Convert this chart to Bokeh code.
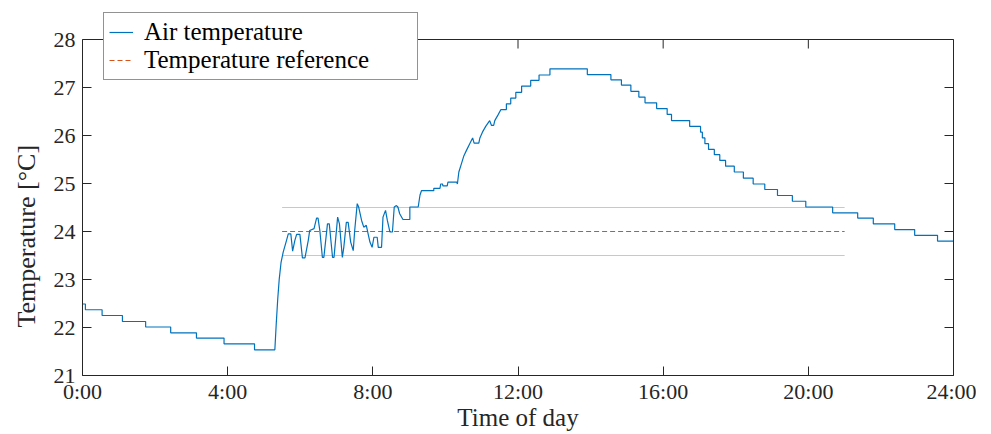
from bokeh.plotting import figure
from bokeh.models import Range1d, FixedTicker, LinearAxis, Legend, LegendItem, Span, Title
from bokeh.embed import file_html
from bokeh.resources import INLINE

# ---------------- data ----------------
# night: stepwise cooling, change points (hour, temperature)
night_h = [0.0, 0.08, 0.54, 1.10, 1.74, 2.43, 3.14, 3.90, 4.74]
night_t = [22.49, 22.37, 22.25, 22.125, 22.01, 21.89, 21.78, 21.66, 21.535]

# morning: heating and oscillation around the reference (polyline vertices)
rise_h = [5.30, 5.34, 5.38, 5.42, 5.47, 5.53, 5.62, 5.67, 5.74, 5.79, 5.85, 5.90, 5.99,
          6.06, 6.13, 6.22, 6.26, 6.38, 6.45, 6.49, 6.54, 6.61, 6.65, 6.75, 6.80, 6.89,
          6.93, 7.03, 7.08, 7.16, 7.20, 7.27, 7.32, 7.39, 7.46, 7.50, 7.57, 7.61, 7.69,
          7.75, 7.82, 7.87, 7.92, 7.98, 8.03, 8.12, 8.15, 8.24, 8.28, 8.35, 8.40, 8.47,
          8.54, 8.59, 8.65, 8.69, 8.74, 8.83, 9.02, 9.02, 9.25, 9.30, 9.34, 9.68, 9.68,
          9.85, 9.87, 9.92, 9.93, 10.05, 10.07, 10.31, 10.33, 10.37, 10.44, 10.51, 10.58,
          10.67, 10.75, 10.79, 10.92, 10.95, 11.02, 11.11, 11.22, 11.27, 11.33, 11.36,
          11.45, 11.53]
rise_t = [21.535, 22.1, 22.6, 23.0, 23.35, 23.57, 23.81, 23.95, 23.95, 23.59, 23.81, 23.94, 23.94,
          23.45, 23.45, 23.81, 24.02, 24.06, 24.28, 24.28, 24.02, 23.46, 23.46, 24.16, 24.16, 23.46,
          23.46, 24.30, 24.16, 23.46, 23.67, 24.19, 24.19, 23.78, 23.60, 24.02, 24.58, 24.51, 24.23,
          24.09, 24.13, 23.95, 23.78, 23.67, 23.88, 23.88, 23.67, 23.67, 24.30, 24.44, 24.23, 23.99,
          23.99, 24.51, 24.54, 24.51, 24.37, 24.25, 24.25, 24.51, 24.51, 24.76, 24.85, 24.85, 24.90,
          24.90, 24.99, 24.99, 24.95, 24.95, 25.03, 25.03, 24.99, 25.24, 25.41, 25.58, 25.69,
          25.83, 25.95, 25.84, 25.84, 25.95, 26.07, 26.19, 26.31, 26.21, 26.21, 26.31,
          26.43, 26.54]

# day: stepwise rise to the peak and decline, change points (hour, temperature)
day_h = [11.53, 11.68, 11.80, 11.94, 12.10, 12.35, 12.58, 12.88, 13.91, 14.56, 14.85, 15.11,
         15.33, 15.50, 15.82, 16.11, 16.23, 16.73, 17.03, 17.08, 17.15, 17.25, 17.41, 17.56,
         17.72, 17.96, 18.21, 18.48, 18.80, 19.15, 19.56, 19.93, 20.67, 21.36, 21.79, 22.38,
         22.93, 23.56]
day_t = [26.54, 26.66, 26.78, 26.90, 27.03, 27.15, 27.26, 27.39, 27.27, 27.16, 27.05, 26.92,
         26.80, 26.68, 26.56, 26.44, 26.31, 26.19, 26.07, 25.95, 25.83, 25.71, 25.60, 25.48,
         25.36, 25.24, 25.11, 24.99, 24.875, 24.75, 24.63, 24.51, 24.39, 24.28, 24.16, 24.04,
         23.92, 23.80]
day_end_h = 24.0

# temperature reference and comfort band
ref_h = [5.5, 21.0]
ref_t = [24.0, 24.0]
band_low = [23.5, 23.5]
band_high = [24.5, 24.5]

x_tick_hours = [0, 4, 8, 12, 16, 20, 24]
x_tick_labels = ["0:00", "4:00", "8:00", "12:00", "16:00", "20:00", "24:00"]
y_ticks = [21, 22, 23, 24, 25, 26, 27, 28]

# ---------------- build the series path ----------------
def steps(hs, ts, end_h):
    xs, ys = [], []
    for i, (h, t) in enumerate(zip(hs, ts)):
        nxt = hs[i + 1] if i + 1 < len(hs) else end_h
        xs += [h, nxt]
        ys += [t, t]
    return xs, ys

nx, ny = steps(night_h, night_t, rise_h[0])
dx, dy = steps(day_h, day_t, day_end_h)
air_h = nx + rise_h + dx
air_t = ny + rise_t + dy

# ---------------- figure ----------------
FONT = "Liberation Serif"
DARK = "#262626"
BLUE = "#0072BD"
RED = "#D95319"

Y_MIN, Y_MAX = y_ticks[0], y_ticks[-1]
PX_PER_DEG = 48          # axis box: 7 degrees over 336 px
TOP = 3                  # frame reaches up above the legend's top edge
HEAD = 36                # px between frame top and the 28 degree line
FRAME_H = 336 + HEAD
y_top = Y_MAX + HEAD / PX_PER_DEG

p = figure(frame_width=871, frame_height=FRAME_H, output_backend="svg", toolbar_location=None,
           x_range=Range1d(0, 24), y_range=Range1d(Y_MIN, y_top),
           min_border_left=81, min_border_right=23, min_border_top=TOP, min_border_bottom=48,
           x_axis_label="Time of day")
p.grid.visible = False
p.outline_line_color = None
p.background_fill_color = "white"
p.border_fill_color = "white"

for ax in p.xaxis:
    ax.ticker = FixedTicker(ticks=x_tick_hours)
    ax.major_label_overrides = {h: s for h, s in zip(x_tick_hours, x_tick_labels)}
for ax in p.yaxis:
    ax.ticker = FixedTicker(ticks=y_ticks)
    ax.bounds = (Y_MIN, Y_MAX)

for ax in list(p.xaxis) + list(p.yaxis):
    ax.axis_line_color = DARK
    ax.major_tick_line_color = DARK
    ax.major_tick_in = 9
    ax.major_tick_out = 0
    ax.minor_tick_line_color = None
    ax.major_label_text_font = FONT
    ax.major_label_text_font_size = "22px"
    ax.major_label_text_color = DARK
    ax.axis_label_text_font = FONT
    ax.axis_label_text_font_size = "25px"
    ax.axis_label_text_font_style = "normal"
    ax.axis_label_text_color = DARK
p.xaxis.major_label_standoff = 3
p.xaxis.axis_label_standoff = -3
p.yaxis.major_label_standoff = 7

# y-axis title, placed along the left side
ytitle = Title(text="Temperature [°C]", align="left", offset=48, standoff=19,
               text_font=FONT, text_font_size="26px", text_font_style="normal",
               text_color=DARK)
p.add_layout(ytitle, "left")

# right edge of the box with inward ticks
right = LinearAxis(ticker=FixedTicker(ticks=y_ticks), bounds=(Y_MIN, Y_MAX),
                   major_label_overrides={t: "" for t in y_ticks},
                   major_label_standoff=0, major_tick_in=9, major_tick_out=0,
                   minor_tick_line_color=None, axis_line_color=DARK, major_tick_line_color=DARK)
p.add_layout(right, "right")

# top edge of the box with inward ticks
p.add_layout(Span(location=Y_MAX, dimension="width", line_color=DARK, line_width=1))
p.ray(x=x_tick_hours, y=[Y_MAX] * len(x_tick_hours), length=9, length_units="screen",
      angle=-90, angle_units="deg", line_color=DARK, line_width=1)

p.line(ref_h, band_low, line_color="#c8c8c8", line_width=1)
p.line(ref_h, band_high, line_color="#c8c8c8", line_width=1)
r_ref = p.line(ref_h, ref_t, line_color=RED, line_width=1, line_dash="5 3")
r_air = p.line(air_h, air_t, line_color=BLUE, line_width=1.2)

# legend: left edge at 21 px into the box, bottom edge 295 px above the box bottom
legend = Legend(items=[LegendItem(label="Air temperature", renderers=[r_air]),
                       LegendItem(label="Temperature reference", renderers=[r_ref])],
                location=(21, 295), orientation="vertical",
                label_text_font=FONT, label_text_font_size="25px", label_text_color="black",
                border_line_color=DARK, border_line_width=1, background_fill_color="white",
                background_fill_alpha=1, glyph_width=24, glyph_height=22, label_standoff=11,
                padding=5, spacing=0, label_height=22, label_width=268, margin=0)
p.add_layout(legend, "center")

open("out.html", "w").write(file_html(p, INLINE))
